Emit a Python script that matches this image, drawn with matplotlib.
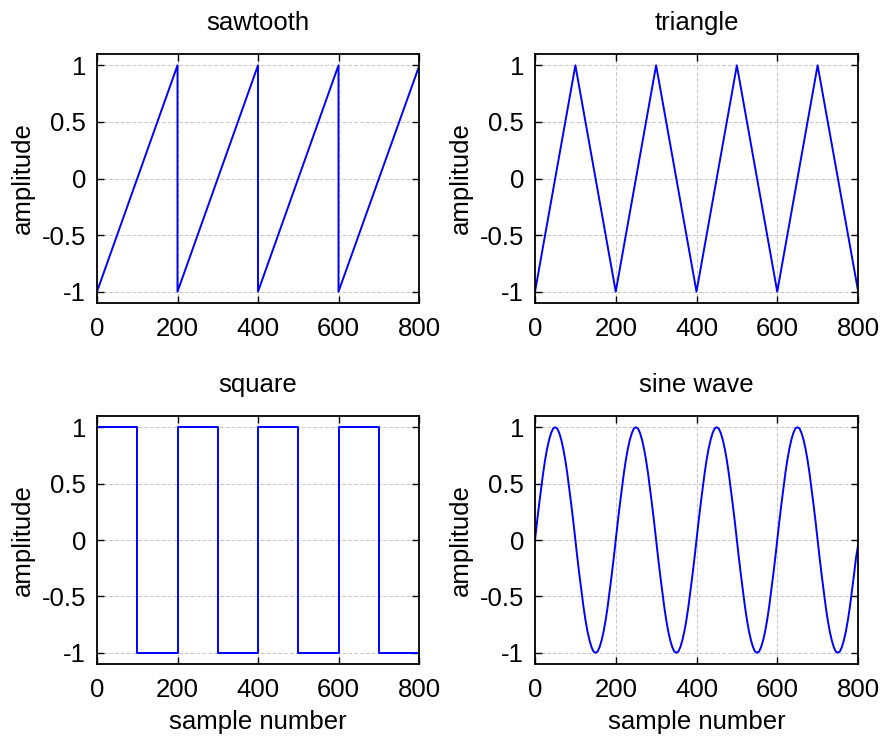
import matplotlib
matplotlib.use('Agg')
import matplotlib.pyplot as plt
import numpy as np

plt.rcParams['font.family'] = ['Liberation Sans', 'DejaVu Sans']
plt.rcParams['axes.unicode_minus'] = False

# sawtooth corners
saw_x = [0, 200, 200, 400, 400, 600, 600, 800]
saw_y = [-1, 1, -1, 1, -1, 1, -1, 0.99]

# triangle corners
tri_x = [0, 100, 200, 300, 400, 500, 600, 700, 800]
tri_y = [-1, 1, -1, 1, -1, 1, -1, 1, -0.99]

# square levels (held until next edge)
sq_x = [0, 100, 200, 300, 400, 500, 600, 700, 800]
sq_y = [1, -1, 1, -1, 1, -1, 1, -1, -1]

# sine wave, read every 5 samples
sin_x = np.arange(0, 801, 5)
sin_y = [
    0, 0.16, 0.31, 0.45, 0.59, 0.71, 0.81, 0.89, 0.95, 0.99, 1, 0.99, 0.95, 0.89, 0.81, 0.71, 0.59, 0.45, 0.31, 0.16,
    0, -0.16, -0.31, -0.45, -0.59, -0.71, -0.81, -0.89, -0.95, -0.99, -1, -0.99, -0.95, -0.89, -0.81, -0.71, -0.59, -0.45, -0.31, -0.16,
    0, 0.16, 0.31, 0.45, 0.59, 0.71, 0.81, 0.89, 0.95, 0.99, 1, 0.99, 0.95, 0.89, 0.81, 0.71, 0.59, 0.45, 0.31, 0.16,
    0, -0.16, -0.31, -0.45, -0.59, -0.71, -0.81, -0.89, -0.95, -0.99, -1, -0.99, -0.95, -0.89, -0.81, -0.71, -0.59, -0.45, -0.31, -0.16,
    0, 0.16, 0.31, 0.45, 0.59, 0.71, 0.81, 0.89, 0.95, 0.99, 1, 0.99, 0.95, 0.89, 0.81, 0.71, 0.59, 0.45, 0.31, 0.16,
    0, -0.16, -0.31, -0.45, -0.59, -0.71, -0.81, -0.89, -0.95, -0.99, -1, -0.99, -0.95, -0.89, -0.81, -0.71, -0.59, -0.45, -0.31, -0.16,
    0, 0.16, 0.31, 0.45, 0.59, 0.71, 0.81, 0.89, 0.95, 0.99, 1, 0.99, 0.95, 0.89, 0.81, 0.71, 0.59, 0.45, 0.31, 0.16,
    0, -0.16, -0.31, -0.45, -0.59, -0.71, -0.81, -0.89, -0.95, -0.99, -1, -0.99, -0.95, -0.89, -0.81, -0.71, -0.59, -0.45, -0.31, -0.16,
    -0.05,
]

x_ticks = [0, 200, 400, 600, 800]
y_ticks = [-1, -0.5, 0, 0.5, 1]
y_ticklabels = ['-1', '-0.5', '0', '0.5', '1']

W, H = 884, 738
fig = plt.figure(figsize=(W / 100, H / 100), dpi=100)

# axes boxes in pixels: left, top, right, bottom
boxes = {
    'sawtooth': (97, 54, 419, 303),
    'triangle': (535, 54, 858, 303),
    'square': (97, 416, 419, 664),
    'sine wave': (535, 416, 858, 664),
}

fs = 18.5
axes = {}
for name, (l, t, r, b) in boxes.items():
    ax = fig.add_axes([l / W, 1 - b / H, (r - l) / W, (b - t) / H])
    ax.set_xlim(0, 800)
    ax.set_ylim(-1.1, 1.1)
    ax.set_xticks(x_ticks)
    ax.set_yticks(y_ticks)
    ax.set_yticklabels(y_ticklabels)
    ax.tick_params(direction='in', length=5, width=1, top=True, right=True,
                   labelsize=fs)
    ax.tick_params(axis='x', pad=10)
    ax.tick_params(axis='y', pad=8)
    ax.grid(True, color='#c8c8c8', linestyle=(0, (4, 2)), linewidth=0.7)
    for s in ax.spines.values():
        s.set_linewidth(1.3)
    ax.set_title(name, fontsize=fs, pad=17)
    ax.set_ylabel('amplitude', fontsize=fs, labelpad=5)
    axes[name] = ax

blue = '#0000ff'
axes['sawtooth'].plot(saw_x, saw_y, color=blue, lw=1.4)
axes['triangle'].plot(tri_x, tri_y, color=blue, lw=1.4)
axes['square'].plot(sq_x, sq_y, color=blue, lw=1.4, drawstyle='steps-post')
axes['sine wave'].plot(sin_x, sin_y, color=blue, lw=1.4)

axes['square'].set_xlabel('sample number', fontsize=fs, labelpad=6)
axes['sine wave'].set_xlabel('sample number', fontsize=fs, labelpad=6)

fig.savefig('out.png', dpi=100)
